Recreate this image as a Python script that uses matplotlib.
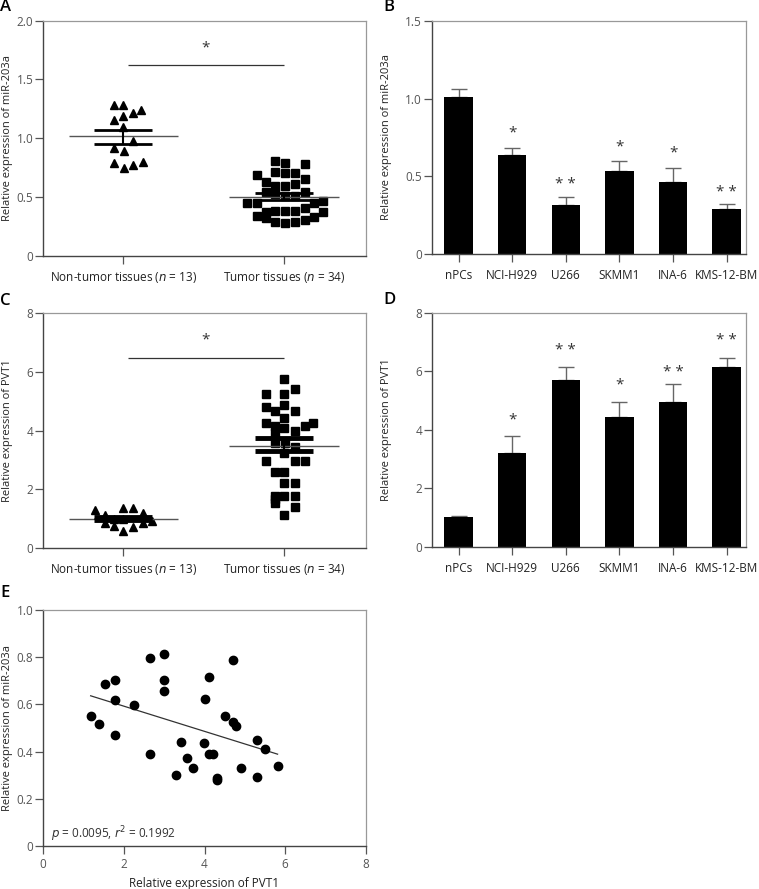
import numpy as np
import matplotlib
matplotlib.use("Agg")
import matplotlib.pyplot as plt

plt.rcParams['font.family'] = ['Open Sans', 'DejaVu Sans']

# ---------------- data ----------------
groups = ["Non-tumor tissues ($n$ = 13)", "Tumor tissues ($n$ = 34)"]

# Panel A: miR-203a in tissues (jitter offset, value)
a_non_dx = [-0.058, 0.0, 0.062, 0.110, -0.058, 0.0, 0.0, 0.062, -0.058, 0.006, -0.058, 0.006, 0.062, 0.125]
a_non_y = [1.282, 1.282, 1.212, 1.243, 1.155, 1.189, 1.093, 0.975, 0.918, 0.887, 0.788, 0.749, 0.771, 0.799]
a_tum_dx = [-0.054, 0.006, 0.129, -0.054, 0.006, 0.067, -0.170, 0.129, -0.114, -0.054, 0.006, 0.067,
            -0.114, 0.129, -0.054, 0.006, 0.067, -0.233, -0.170, 0.189, 0.245, 0.129, -0.054, 0.006,
            0.067, -0.114, 0.245, -0.170, -0.114, 0.189, -0.054, 0.006, 0.067, 0.129]
a_tum_y = [0.805, 0.791, 0.780, 0.712, 0.700, 0.700, 0.684, 0.650, 0.624, 0.596, 0.596, 0.613,
           0.540, 0.540, 0.523, 0.508, 0.508, 0.449, 0.449, 0.449, 0.469, 0.407, 0.384, 0.384,
           0.384, 0.376, 0.370, 0.339, 0.325, 0.328, 0.288, 0.280, 0.288, 0.302]
a_means = [1.017, 0.503]
a_sem_hi = [1.068, 0.537]
a_sem_lo = [0.952, 0.477]

# Panel C: PVT1 in tissues
c_non_dx = [-0.179, -0.114, -0.058, 0.0, 0.062, 0.125, -0.114, -0.058, 0.0, 0.062, 0.125, 0.179, 0.0]
c_non_y = [1.29, 1.10, 0.99, 1.35, 1.35, 1.17, 0.86, 0.75, 0.56, 0.69, 0.83, 0.91, 0.97]
c_tum_dx = [0.0, -0.114, 0.0, 0.067, -0.114, -0.054, 0.0, 0.067, 0.0, -0.114, -0.054, 0.0, 0.067,
            0.129, 0.179, -0.054, -0.054, 0.006, 0.067, 0.0, -0.114, 0.067, 0.129, -0.054, 0.0,
            0.0, 0.067, -0.054, 0.0, 0.067, -0.054, -0.054, 0.067, 0.0]
c_tum_y = [5.75, 5.24, 5.24, 5.43, 4.79, 4.68, 4.86, 4.68, 4.44, 4.25, 4.15, 4.10, 4.00, 4.15, 4.25,
           3.92, 3.56, 3.56, 3.45, 3.24, 2.96, 2.96, 2.96, 2.57, 2.57, 2.20, 2.20, 1.76, 1.76, 1.76,
           1.54, 1.65, 1.38, 1.13]
c_means = [0.99, 3.48]
c_sem_hi = [1.05, 3.73]
c_sem_lo = [0.94, 3.30]

# Panels B / D: cell lines
cell_lines = ["nPCs", "NCI-H929", "U266", "SKMM1", "INA-6", "KMS-12-BM"]
b_vals = [1.012, 0.636, 0.317, 0.535, 0.467, 0.291]
b_err = [0.047, 0.044, 0.053, 0.062, 0.089, 0.032]
b_sig = ["", "*", "* *", "*", "*", "* *"]
b_sig_y = [None, 0.777, 0.445, 0.691, 0.653, 0.396]

d_vals = [1.035, 3.20, 5.71, 4.43, 4.94, 6.13]
d_err = [0.025, 0.60, 0.42, 0.51, 0.61, 0.31]
d_sig = ["", "*", "* *", "*", "* *", "* *"]
d_sig_y = [None, 4.33, 6.70, 5.53, 5.95, 7.04]

# Panel E: correlation
e_pvt1 = [1.18, 1.39, 1.54, 1.79, 1.79, 1.79, 2.25, 2.64, 2.64, 2.99, 2.99, 2.99, 3.30, 3.41, 3.56,
          3.71, 3.98, 4.00, 4.10, 4.10, 4.20, 4.31, 4.31, 4.52, 4.70, 4.70, 4.79, 4.90, 5.29, 5.29,
          5.51, 5.81]
e_mir = [0.549, 0.517, 0.688, 0.703, 0.620, 0.469, 0.597, 0.795, 0.391, 0.815, 0.703, 0.657, 0.301,
         0.442, 0.371, 0.332, 0.436, 0.624, 0.715, 0.391, 0.391, 0.287, 0.281, 0.549, 0.787, 0.527,
         0.508, 0.332, 0.449, 0.292, 0.410, 0.340]
e_text = "$p$ = 0.0095, $r^2$ = 0.1992"

# ---------------- style ----------------
W, H = 759, 889
fig = plt.figure(figsize=(W / 100, H / 100), dpi=100)
TICK_C = "#555555"
LBL_C = "#222222"
FS = 8.5
YL_FS = 8.0


def px_axes(left, top, right, bottom):
    return fig.add_axes([left / W, 1 - bottom / H, (right - left) / W, (bottom - top) / H])


def style(ax):
    for s in ["left", "bottom"]:
        ax.spines[s].set_color("#444444")
        ax.spines[s].set_linewidth(1.0)
    for s in ["top", "right"]:
        ax.spines[s].set_color("#999999")
        ax.spines[s].set_linewidth(0.9)
    ax.tick_params(axis="both", direction="out", length=5.5, width=0.9, color="#555555",
                   labelsize=FS, labelcolor=TICK_C, top=False, right=False)
    ax.tick_params(axis="y", pad=1.5)


def fmt_y(ax, ticks):
    ax.set_yticks(ticks)
    ax.set_yticklabels(["0" if t == 0 else (f"{t:.1f}" if isinstance(t, float) else str(t)) for t in ticks])


def set_ylabel(ax, text, xpos):
    ax.set_ylabel(text, fontsize=YL_FS, color=LBL_C)
    ax.yaxis.set_label_coords(xpos, 0.5)


def dot_plot(ax, non_dx, non_y, tum_dx, tum_y, means, hi, lo, sem_lw, ylim, yticks, ylabel,
             sig_y, star_y):
    ax.plot(np.array(non_dx) + 0, non_y, "^", color="black", ms=6, mec="black", zorder=3)
    ax.plot(np.array(tum_dx) + 1, tum_y, "s", color="black", ms=5.5, mec="black", zorder=3)
    for i in range(2):
        ax.hlines(means[i], i - 0.34, i + 0.34, color="#555555", lw=1.0, zorder=4)
        ax.hlines([hi[i], lo[i]], i - 0.18, i + 0.18, color="black", lw=sem_lw, zorder=4)
        ax.vlines(i, lo[i], hi[i], color="black", lw=1.5, zorder=4)
    ax.hlines(sig_y, 0.03, 1.0, color="#333333", lw=0.9)
    ax.text(0.51, star_y, "*", ha="center", va="center", fontsize=11, color="#333333")
    ax.set_xlim(-0.5, 1.51)
    ax.set_ylim(*ylim)
    ax.set_xticks([0, 1])
    ax.set_xticklabels(groups, color=LBL_C, fontsize=FS)
    fmt_y(ax, yticks)
    set_ylabel(ax, ylabel, -0.094)
    style(ax)
    ax.tick_params(axis="x", labelcolor=LBL_C, pad=5)


def bar_plot(ax, vals, err, sig, sig_y, ylim, yticks, ylabel):
    x = np.arange(len(cell_lines))
    ax.bar(x, vals, width=0.53, color="black", zorder=2)
    ax.errorbar(x, vals, yerr=[np.zeros(len(vals)), err], fmt="none", ecolor="#666666",
                elinewidth=1.0, capsize=5.5, capthick=1.0, zorder=1)
    for xi, s, sy in zip(x, sig, sig_y):
        if s:
            ax.text(xi, sy, s, ha="center", va="center", fontsize=11, color="#333333")
    ax.set_xlim(-0.5, 5.36)
    ax.set_ylim(*ylim)
    ax.set_xticks(x)
    ax.set_xticklabels(cell_lines, fontsize=FS, color=LBL_C)
    fmt_y(ax, yticks)
    set_ylabel(ax, ylabel, -0.126)
    style(ax)
    ax.tick_params(axis="x", labelcolor=LBL_C, pad=5)


# Panel A
axA = px_axes(43, 20.7, 366, 255.7)
dot_plot(axA, a_non_dx, a_non_y, a_tum_dx, a_tum_y, a_means, a_sem_hi, a_sem_lo, 2.0,
         (0, 2.0), [0, 0.5, 1.0, 1.5, 2.0], "Relative expression of miR-203a", 1.621, 1.77)

# Panel B
axB = px_axes(431.7, 20.7, 746, 254.3)
bar_plot(axB, b_vals, b_err, b_sig, b_sig_y, (0, 1.5), [0, 0.5, 1.0, 1.5],
         "Relative expression of miR-203a")

# Panel C
axC = px_axes(43, 313.3, 366, 547.7)
dot_plot(axC, c_non_dx, c_non_y, c_tum_dx, c_tum_y, c_means, c_sem_hi, c_sem_lo, 3.5,
         (0, 8), [0, 2, 4, 6, 8], "Relative expression of PVT1", 6.48, 7.1)

# Panel D
axD = px_axes(431.7, 312.7, 746, 547)
bar_plot(axD, d_vals, d_err, d_sig, d_sig_y, (0, 8), [0, 2, 4, 6, 8],
         "Relative expression of PVT1")

# Panel E
axE = px_axes(43, 610, 366, 846)
axE.plot(e_pvt1, e_mir, "o", color="black", ms=6, zorder=3)
k, b = np.polyfit(e_pvt1, e_mir, 1)
xx = np.array([min(e_pvt1), max(e_pvt1)])
axE.plot(xx, k * xx + b, color="#333333", lw=0.9)
axE.set_xlim(0, 8)
axE.set_ylim(0, 1.0)
axE.set_xticks([0, 2, 4, 6, 8])
fmt_y(axE, [0, 0.2, 0.4, 0.6, 0.8, 1.0])
axE.set_xlabel("Relative expression of PVT1", fontsize=FS, color=LBL_C, labelpad=4)
set_ylabel(axE, "Relative expression of miR-203a", -0.094)
axE.text(0.21, 0.049, e_text, fontsize=FS, color="#333333", ha="left", va="center")
style(axE)

# Panel letters
for letter, (px, py) in {"A": (0, 7), "B": (383, 7), "C": (0, 301), "D": (383, 300), "E": (0, 593)}.items():
    fig.text(px / W, 1 - py / H, letter, fontsize=12, color="black", ha="left", va="center",
             fontweight="semibold")

fig.savefig("out.png", dpi=100)
